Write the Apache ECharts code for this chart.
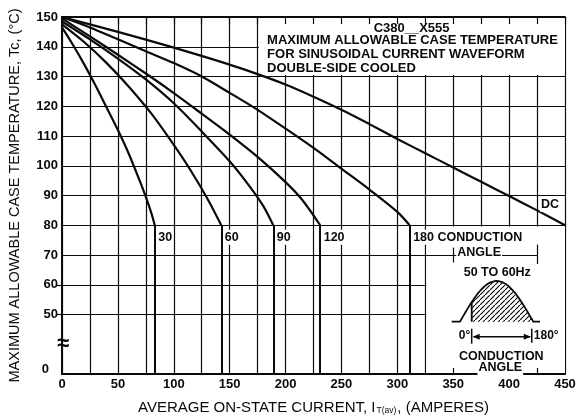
<!DOCTYPE html>
<html><head><meta charset="utf-8">
<script src="https://cdn.jsdelivr.net/npm/echarts@6/dist/echarts.min.js"></script>
<style>html,body{margin:0;padding:0;background:#fff}#c{width:579px;height:420px}</style>
</head><body><div id="c"></div><script>
// ---- data ----
const curveNames = ['30', '60', '90', '120', '180', 'DC'];
const amps30  = [0, 10, 20, 30, 40, 50, 60, 70, 75, 80, 83];
const temp30  = [146.5, 140.5, 134, 127, 119.5, 112, 103.8, 94.5, 89.5, 84, 80];
const amps60  = [0, 20, 40, 60, 80, 100, 115, 130, 142.5];
const temp60  = [147.5, 141.5, 134.5, 126.5, 117.5, 107, 98.5, 89, 80];
const amps90  = [0, 25, 50, 75, 100, 125, 150, 168, 180, 189];
const temp90  = [148.5, 142.5, 136, 129, 121, 111.5, 101.5, 93, 86.5, 80];
const amps120 = [0, 25, 50, 75, 96, 125, 150, 175, 200, 215, 231];
const temp120 = [149.5, 143.5, 137.3, 131, 125.5, 117.5, 110.5, 103, 94.5, 88.5, 80];
const amps180 = [0, 25, 50, 75, 100, 125, 150, 175, 200, 225, 250, 275, 300, 311];
const temp180 = [150, 146.5, 142.5, 138.5, 134.5, 130, 124.5, 118.8, 112.5, 106, 99, 92, 84.5, 80];
const ampsDC  = [0, 50, 100, 150, 175, 200, 225, 250, 275, 300, 325, 350, 375, 400, 425, 450];
const tempDC  = [150, 145, 139.7, 134, 130.8, 127.3, 123.2, 118.8, 114, 109, 104.2, 99.4, 94.6, 89.8, 85, 80];
const xTickLabels = [0, 50, 100, 150, 200, 250, 300, 350, 400, 450];
const yTickValues = [30, 50, 60, 70, 80, 90, 100, 110, 120, 130, 140, 150]; // 30 = broken-axis "0"
const AXIS_BASE = 30;   // bottom of the broken temperature axis (labelled 0)

// ---- chart ----
const BLACK = '#0a0a0a';
const FONT = '"Liberation Sans", Arial, sans-serif';
const chart = echarts.init(document.getElementById('c'), null, {renderer: 'canvas'});
const ampsList = [amps30, amps60, amps90, amps120, amps180, ampsDC];
const tempList = [temp30, temp60, temp90, temp120, temp180, tempDC];
const last = a => a[a.length - 1];

const curveSeries = curveNames.map((name, i) => {
  const xs = ampsList[i], ys = tempList[i];
  const s = {
    type: 'line', name, data: xs.map((x, k) => [x, ys[k]]),
    symbol: 'none', smooth: 0.3, z: 3, silent: true,
    lineStyle: {color: BLACK, width: 2.2}
  };
  if (name !== 'DC') {
    s.markLine = {
      silent: true, symbol: 'none', label: {show: false},
      lineStyle: {color: BLACK, width: 2, type: 'solid'},
      data: [[{coord: [last(xs), last(ys)]}, {coord: [last(xs), AXIS_BASE]}]]
    };
  }
  return s;
});

const option = {
  animation: false,
  backgroundColor: '#fff',
  grid: {left: 62, right: 14, top: 17, bottom: 46, containLabel: false, outerBoundsMode: 'none'},
  xAxis: [
    {
      type: 'value', min: 0, max: 450, interval: 25, position: 'bottom', z: 0,
      axisLine: {show: true, lineStyle: {color: BLACK, width: 2}},
      axisTick: {show: false},
      axisLabel: {
        margin: 4, color: BLACK, fontFamily: FONT, fontWeight: 'bold', fontSize: 13,
        formatter: v => (xTickLabels.indexOf(v) >= 0 ? String(v) : '')
      },
      splitLine: {show: true, lineStyle: {color: BLACK, width: 1.2}},
      name: 'AVERAGE ON-STATE CURRENT, I{sub|T(av)}, (AMPERES)',
      nameLocation: 'middle', nameGap: 25, nameMoveOverlap: false,
      nameTextStyle: {
        color: BLACK, fontFamily: FONT, fontSize: 15, lineHeight: 17,
        rich: {sub: {fontSize: 8.5, fontFamily: FONT, color: BLACK, padding: [6, 1, 0, 1]}}
      }
    },
    {
      type: 'value', min: 0, max: 450, interval: 25, position: 'top', z: 5,
      axisLine: {show: true, lineStyle: {color: BLACK, width: 2}},
      axisTick: {show: true, inside: true, length: 7, lineStyle: {color: BLACK, width: 1.2}},
      axisLabel: {show: false}, splitLine: {show: false}
    },
    {
      type: 'value', min: 0, max: 450, interval: 25, position: 'bottom', z: 5,
      axisLine: {show: true, lineStyle: {color: BLACK, width: 2}},
      axisTick: {show: true, inside: true, length: 6, customValues: [350, 375, 400, 425],
                 lineStyle: {color: BLACK, width: 1.2}},
      axisLabel: {show: false}, splitLine: {show: false}
    }
  ],
  yAxis: [
    {
      type: 'value', min: AXIS_BASE, max: 150, interval: 10, position: 'left', z: 0,
      axisLine: {show: true, lineStyle: {color: BLACK, width: 2}},
      axisTick: {show: false, customValues: yTickValues},
      axisLabel: {
        margin: 4, color: BLACK, fontFamily: FONT, fontWeight: 'bold', fontSize: 13,
        customValues: yTickValues,
        formatter: v => (v === AXIS_BASE ? '{zero|0}' : String(v)),
        rich: {zero: {fontFamily: FONT, fontWeight: 'bold', fontSize: 13, color: BLACK, padding: [0, 9, 10, 0]}}
      },
      splitLine: {show: true, lineStyle: {color: BLACK, width: 1.2}},
      name: 'MAXIMUM ALLOWABLE CASE TEMPERATURE, Tc, (°C)',
      nameLocation: 'middle', nameRotate: 90, nameGap: 40, nameMoveOverlap: false,
      nameTextStyle: {color: BLACK, fontFamily: FONT, fontSize: 14.5}
    },
    {
      type: 'value', min: AXIS_BASE, max: 150, interval: 10, position: 'right', z: 5,
      axisLine: {show: true, lineStyle: {color: BLACK, width: 2}},
      axisTick: {show: true, inside: true, length: 6, customValues: [50, 60],
                 lineStyle: {color: BLACK, width: 1.2}},
      axisLabel: {show: false}, splitLine: {show: false}
    }
  ],
  series: [
    { // white panels for the title box and the inset
      type: 'line', data: [], z: 1, silent: true,
      markArea: {
        silent: true, itemStyle: {color: '#fff', borderWidth: 0}, label: {show: false},
        data: [
          [{xAxis: 176, yAxis: 130.5}, {xAxis: 450, yAxis: 150}],
          [{xAxis: 326, yAxis: AXIS_BASE}, {xAxis: 450, yAxis: 79.6}]
        ]
      }
    },
    { // grid fragments visible inside the inset
      type: 'line', data: [], z: 2, silent: true,
      markLine: {
        silent: true, symbol: 'none', label: {show: false},
        lineStyle: {color: BLACK, width: 1.2, type: 'solid'},
        data: [
          [{coord: [325, 70]}, {coord: [425, 70]}],
          [{coord: [350, 67.5]}, {coord: [350, 72.5]}],
          [{coord: [425, 67]}, {coord: [425, 73.5]}]
        ]
      }
    },
    ...curveSeries
  ]
};
chart.setOption(option);

// ---- annotations ----
const P = (a, t) => chart.convertToPixel({xAxisIndex: 0, yAxisIndex: 0}, [a, t]);
const bold = sz => 'bold ' + sz + 'px ' + FONT;
function txt(text, x, y, align, sz, bg) {
  const st = {text, font: bold(sz || 12.5), fill: BLACK, align: align || 'left', verticalAlign: 'middle'};
  if (bg) { st.backgroundColor = '#fff'; st.padding = [1, 1, 1, 1]; }
  return {type: 'text', x, y, z: 20, silent: true, style: st};
}
const g = [];
// title box
const box = P(175, 150);
g.push(txt('C380__X555', box[0] + 154, box[1] + 11.5, 'center', 13));
g.push(txt('MAXIMUM ALLOWABLE CASE TEMPERATURE', box[0] + 9.5, box[1] + 23.5, 'left', 13));
g.push(txt('FOR SINUSOIDAL CURRENT WAVEFORM', box[0] + 9.5, box[1] + 37.5, 'left', 13));
g.push(txt('DOUBLE-SIDE COOLED', box[0] + 9.5, box[1] + 51, 'left', 13));
// curve labels
curveNames.forEach((name, i) => {
  const e = P(last(ampsList[i]), last(tempList[i]));
  if (name === 'DC') {
    g.push(txt('DC', e[0] - 5, e[1] - 21, 'right', 12.5, true));
  } else if (name === '180') {
    g.push(txt('180 CONDUCTION', e[0] + 2.5, e[1] + 12, 'left', 12.5, true));
    g.push(txt('ANGLE', e[0] + 69.5, e[1] + 27, 'center', 12.5, true));
  } else {
    g.push(txt(name, e[0] + 2.5, e[1] + 12, 'left', 12.5, true));
  }
});
// axis break symbol
const br = P(0, 40);
g.push({type: 'text', x: br[0] + 1, y: br[1], z: 20, silent: true,
  style: {text: '≈', font: 'bold 22px ' + FONT, fill: BLACK, align: 'center', verticalAlign: 'middle'}});

// inset: half-sine waveform with hatched conduction portion
const o = P(325, AXIS_BASE); // inset reference corner
const baseY = o[1] - 52.3, peakH = 40.7;
const x0 = o[0] + 26.4, x1 = o[0] + 34.7, x2 = o[0] + 108, x3 = o[0] + 114.7, xf = o[0] + 46.4;
const sineY = x => baseY - peakH * Math.sin(Math.PI * (x - x1) / (x2 - x1));
const wave = [[x0, baseY], [x1, baseY]];
for (let k = 0; k <= 40; k++) { const x = x1 + (x2 - x1) * k / 40; wave.push([x, sineY(x)]); }
wave.push([x3, baseY]);
const hatch = [[xf, baseY]];
for (let k = 0; k <= 30; k++) { const x = xf + (x2 - xf) * k / 30; hatch.push([x, sineY(x)]); }
hatch.push([x2, baseY]);
const pc = document.createElement('canvas'); pc.width = 5; pc.height = 5;
const ctx = pc.getContext('2d'); ctx.strokeStyle = '#000'; ctx.lineWidth = 1.1;
ctx.beginPath(); ctx.moveTo(-1, 6); ctx.lineTo(6, -1); ctx.stroke();
g.push({type: 'polygon', z: 15, silent: true, shape: {points: hatch}, style: {fill: {image: pc, repeat: 'repeat'}, stroke: null}});
g.push({type: 'polyline', z: 16, silent: true, shape: {points: wave}, style: {stroke: BLACK, lineWidth: 1.8, fill: null}});
g.push({type: 'line', z: 16, silent: true, shape: {x1: xf, y1: baseY, x2: xf, y2: sineY(xf)}, style: {stroke: BLACK, lineWidth: 1.8}});
const ay = o[1] - 37.3;
g.push({type: 'line', z: 16, silent: true, shape: {x1: xf, y1: ay - 8, x2: xf, y2: ay + 7}, style: {stroke: BLACK, lineWidth: 1.5}});
g.push({type: 'line', z: 16, silent: true, shape: {x1: x2 - 1.5, y1: ay - 8, x2: x2 - 1.5, y2: ay + 6}, style: {stroke: BLACK, lineWidth: 1.5}});
g.push({type: 'line', z: 16, silent: true, shape: {x1: xf + 2, y1: ay, x2: x2 - 3, y2: ay}, style: {stroke: BLACK, lineWidth: 1.5}});
g.push({type: 'polygon', z: 16, silent: true, shape: {points: [[xf + 1, ay], [xf + 8, ay - 3], [xf + 8, ay + 3]]}, style: {fill: BLACK}});
g.push({type: 'polygon', z: 16, silent: true, shape: {points: [[x2 - 2.5, ay], [x2 - 9.5, ay - 3], [x2 - 9.5, ay + 3]]}, style: {fill: BLACK}});
g.push(txt('50 TO 60Hz', o[0] + 72, o[1] - 101, 'center', 12.5));
g.push(txt('0°', xf - 1.5, ay - 1, 'right', 12));
g.push(txt('180°', x2 + 0.5, ay - 1, 'left', 12));
g.push(txt('CONDUCTION', o[0] + 76, o[1] - 17, 'center', 12.5));
g.push(txt('ANGLE', o[0] + 75, o[1] - 6, 'center', 12.5, true));
chart.setOption({graphic: g});
</script></body></html>
